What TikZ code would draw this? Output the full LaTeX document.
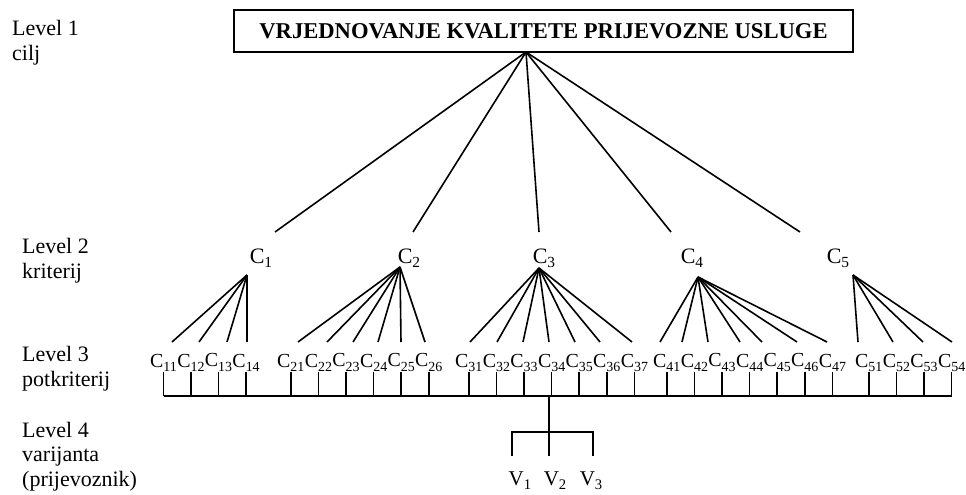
\documentclass[tikz,border=0pt]{standalone}
\usepackage{fontspec}
\setmainfont{Liberation Serif}
\usepackage{tikz}
\usetikzlibrary{positioning}
\newcommand{\levfont}{\fontsize{22}{24.5}\selectfont}
\newcommand{\goalfont}{\fontsize{22.6}{24}\selectfont\bfseries}
\newcommand{\critfont}{\fontsize{22}{24}\selectfont}
\newcommand{\subfont}{\fontsize{19.9}{21}\selectfont}
\newcommand{\varfont}{\fontsize{21}{22}\selectfont}
\newcommand{\idx}[2]{#1\raisebox{-0.22em}{\scalebox{0.7}{#2}}}

\begin{document}
\begin{tikzpicture}[
  x=1pt,y=-1pt,
  goal/.style={draw,line width=1.8pt,minimum width=619pt,minimum height=42pt,inner sep=0pt,font=\goalfont},
  lev/.style={anchor=base west,align=left,inner sep=0pt,font=\levfont},
  crit/.style={anchor=base,inner sep=0pt,font=\critfont},
  subc/.style={inner sep=0pt,font=\subfont},
  var/.style={anchor=base,inner sep=0pt,font=\varfont},
  edge/.style={line width=1.6pt}
]
\path[use as bounding box,fill=white] (0,0) rectangle (966,495);
% level labels (placed on the baseline of the last line)
\node[lev] (lev1) at (12,60) {Level 1\\cilj};
\node[lev] (lev2) at (22,278) {Level 2\\kriterij};
\node[lev] (lev3) at (22,386) {Level 3\\potkriterij};
\node[lev] (lev4) at (22,486) {Level 4\\varijanta\\(prijevoznik)};
% goal
\node[goal] (goal) at (543.5,31) {VRJEDNOVANJE KVALITETE PRIJEVOZNE USLUGE};
\coordinate (top) at (526,52);
% criteria
\node[crit] (k1) at (261,263) {\idx{C}{1}};
\node[crit] (k2) at (409,263) {\idx{C}{2}};
\node[crit] (k3) at (544,263) {\idx{C}{3}};
\node[crit] (k4) at (692,263) {\idx{C}{4}};
\node[crit] (k5) at (838,263) {\idx{C}{5}};
\coordinate (t1) at (275,232);
\coordinate (t2) at (413,232);
\coordinate (t3) at (539,232);
\coordinate (t4) at (671,232);
\coordinate (t5) at (800,232);
\foreach \i in {1,...,5} \draw[edge] (top) -- (t\i);
\coordinate (p1) at (247,275);
\coordinate (p2) at (400,267);
\coordinate (p3) at (539,268);
\coordinate (p4) at (698,277);
\coordinate (p5) at (853,275);
% subcriteria, one row per group
\node[subc,anchor=base west] (c11) at (150,367) {\idx{C}{11}};
\node[subc,anchor=base west] (c21) at (277,367) {\idx{C}{21}};
\node[subc,anchor=base west] (c31) at (455,367) {\idx{C}{31}};
\node[subc,anchor=base west] (c41) at (653,367) {\idx{C}{41}};
\node[subc,anchor=base west] (c51) at (855,367) {\idx{C}{51}};
\foreach \n/\p in {12/11,13/12,14/13,22/21,23/22,24/23,25/24,26/25,
    32/31,33/32,34/33,35/34,36/35,37/36,42/41,43/42,44/43,45/44,46/45,47/46,
    52/51,53/52,54/53}
  \node[subc,right=0pt of c\p] (c\n) {\idx{C}{\n}};
% group / index / end of the line from the criterion
\coordinate (bar) at (549,396);
\foreach \g/\n/\e in {1/11/172,1/12/199,1/13/227,1/14/247,
    2/21/298,2/22/327,2/23/353,2/24/378,2/25/401,2/26/425,
    3/31/470,3/32/497,3/33/523,3/34/549,3/35/575,3/36/600,3/37/632,
    4/41/660,4/42/682,4/43/708,4/44/740,4/45/762,4/46/797,4/47/827,
    5/51/858,5/52/893,5/53/923,5/54/952}{
  \coordinate (e\n) at (\e,342);
  \draw[edge] (p\g) -- (e\n);
  \draw[edge] (c\n.south) -- (c\n.south |- bar);
}
\draw[edge] (c11 |- bar) -- (c54 |- bar);
% variants
\node[var] (v1) at (520,485) {\idx{V}{1}};
\node[var] (v2) at (555,485) {\idx{V}{2}};
\node[var] (v3) at (591,485) {\idx{V}{3}};
\coordinate (s1) at (512,456);
\coordinate (s2) at (549,456);
\coordinate (s3) at (593,456);
\coordinate (hub) at (549,432);
\draw[edge] (bar) -- (s2);
\draw[edge] (s1) |- (hub) -| (s3);
\end{tikzpicture}
\end{document}
